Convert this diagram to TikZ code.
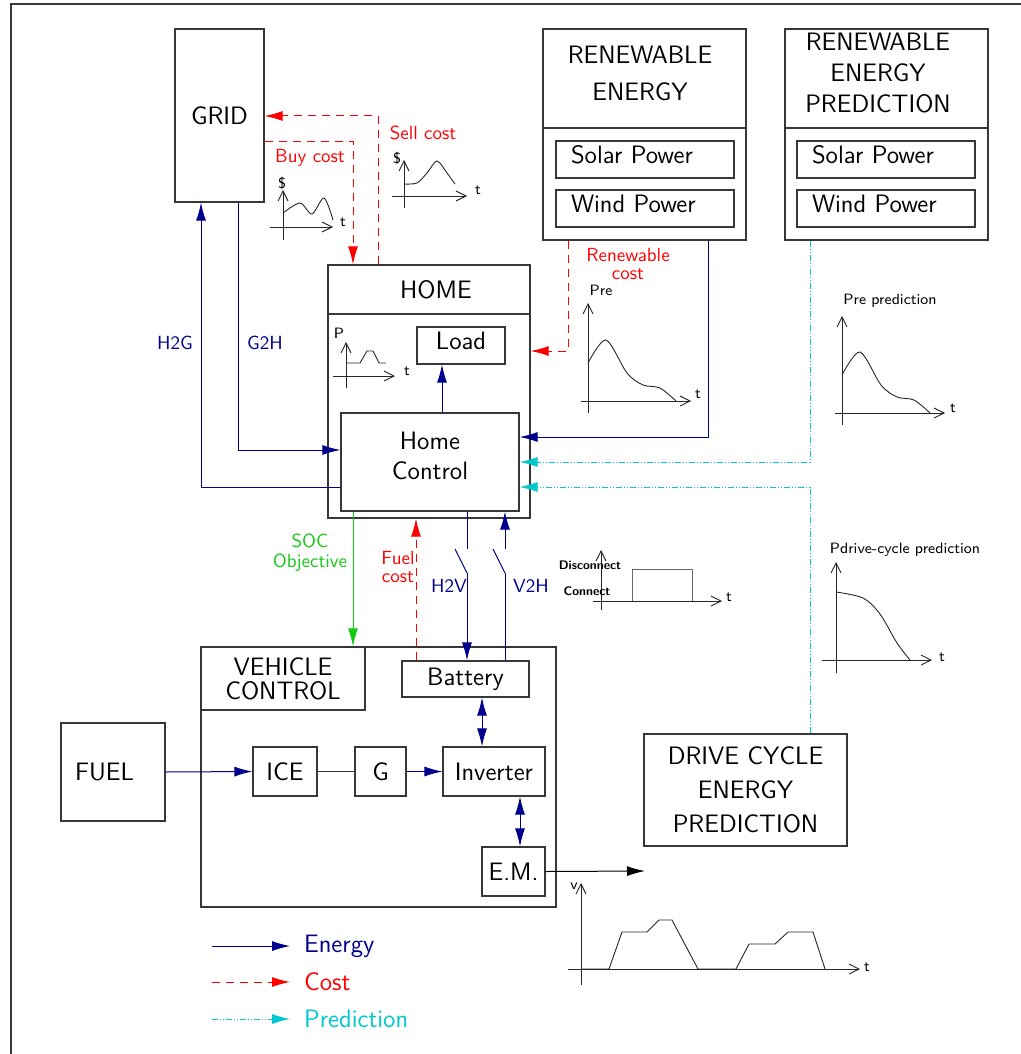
\documentclass[tikz,border=0pt]{standalone}
\usepackage{fontspec}
\usetikzlibrary{arrows.meta}

\definecolor{enblue}{RGB}{0,0,140}
\definecolor{costred}{RGB}{255,0,0}
\definecolor{predcyan}{RGB}{0,200,205}
\definecolor{socgreen}{RGB}{20,200,20}
\definecolor{boxgray}{RGB}{55,55,55}

\tikzset{
  bigtxt/.style={font=\sffamily\fontsize{12.6}{15}\selectfont},
  midtxt/.style={font=\sffamily\fontsize{9.5}{10}\selectfont},
  smltxt/.style={font=\sffamily\fontsize{7.5}{8}\selectfont},
  tinytxt/.style={font=\sffamily\bfseries\fontsize{6.2}{7}\selectfont},
  box/.style={draw=boxgray,line width=0.6pt,inner sep=0pt,bigtxt},
  srcbox/.style={box,minimum width=89pt,minimum height=18.5pt,text width=74pt,inner xsep=7.5pt,align=left,text depth=5pt},
  latexhead/.style={-{Latex[length=9pt,width=5pt]}},
  energy/.style={enblue,line width=0.5pt,latexhead},
  both/.style={enblue,line width=0.5pt,{Latex[length=9pt,width=5pt]}-{Latex[length=9pt,width=5pt]}},
  cost/.style={costred,line width=0.5pt,dash pattern=on 4pt off 3pt,latexhead},
  pred/.style={predcyan,line width=0.5pt,dash pattern=on 3pt off 1pt on 0.5pt off 1pt on 0.5pt off 1pt,latexhead},
  soc/.style={socgreen,line width=0.5pt,latexhead},
  ax/.style={black!85,line width=0.45pt,-{Straight Barb[length=5pt,width=5pt]}},
  curve/.style={black!85,line width=0.45pt},
}

\begin{document}
\begin{tikzpicture}[x=0.5pt,y=-0.5pt]
  \useasboundingbox (0,0) rectangle (1021,1054);
  \draw[boxgray,line width=0.7pt] (11,1054) -- (11,4) -- (1021,4);

  % grid and home
  \node[box,minimum width=44.5pt,minimum height=86.5pt] (grid) at (219.5,115.5) {GRID};
  \node[box,minimum width=101pt,minimum height=126.5pt] (home) at (429,391.5) {};
  \draw[boxgray,line width=0.6pt] (home.west |- 0,314) -- (home.east |- 0,314);
  \node[bigtxt] (homet) at (436,290) {HOME};
  \node[box,minimum width=44pt,minimum height=18.5pt,text depth=5pt] (load) at (461,345.5) {Load};
  \node[box,minimum width=89pt,minimum height=49pt,align=center,text depth=6pt] (hctrl) at (430,462) {Home\\Control};

  % renewables
  \node[box,minimum width=101.5pt,minimum height=105.5pt] (ren) at (644.5,134.5) {};
  \draw[boxgray,line width=0.6pt] (ren.west |- 0,128) -- (ren.east |- 0,128);
  \node[align=center,font=\sffamily\fontsize{12.6}{18.5}\selectfont] (rent) at (640,73) {RENEWABLE\\ENERGY};
  \node[srcbox] (rsol) at (645,159.5) {Solar Power};
  \node[srcbox] (rwnd) at (645,208.5) {Wind Power};
  \node[box,minimum width=101.5pt,minimum height=105.5pt] (rep) at (886.5,134.5) {};
  \draw[boxgray,line width=0.6pt] (rep.west |- 0,128) -- (rep.east |- 0,128);
  \node[align=center,font=\sffamily\fontsize{12.6}{15.3}\selectfont] (rept) at (878,73) {RENEWABLE\\ENERGY\\PREDICTION};
  \node[srcbox] (psol) at (886,159.5) {Solar Power};
  \node[srcbox] (pwnd) at (886,208.5) {Wind Power};

  % vehicle
  \node[box,minimum width=177.5pt,minimum height=130pt] (vctrl) at (378.5,777) {};
  \node[box,minimum width=82pt,minimum height=31.5pt,align=center,font=\sffamily\fontsize{12.6}{12}\selectfont] (vlab) at (283,678.5) {VEHICLE\\CONTROL};
  \node[box,minimum width=63.5pt,minimum height=18pt] (batt) at (465.5,679) {Battery};
  \node[box,minimum width=52pt,minimum height=49pt,text width=38pt,inner xsep=7pt,align=left] (fuel) at (113,772) {FUEL};
  \node[box,minimum width=32pt,minimum height=24.5pt] (ice) at (285,771.5) {ICE};
  \node[box,minimum width=25.5pt,minimum height=24.5pt] (gen) at (380.5,771.5) {G};
  \node[box,minimum width=51pt,minimum height=24.5pt] (inv) at (494,771.5) {Inverter};
  \node[box,minimum width=31.5pt,minimum height=24.5pt] (em) at (513.5,871.5) {E.M.};
  \node[box,minimum width=101.5pt,minimum height=56pt,align=center,font=\sffamily\fontsize{12.6}{17}\selectfont] (dcep) at (745.5,790) {DRIVE CYCLE\\ENERGY\\PREDICTION};

  % grid <-> home
  \draw[cost] (378,0 |- home.north) |- (grid.east |- 0,116);
  \draw[cost] (grid.east |- 0,141) -| (353,0 |- home.north);
  \draw[energy] (hctrl.west |- 0,487) -| (201,0 |- grid.south);
  \draw[energy] (238,0 |- grid.south) |- (hctrl.west |- 0,450);
  \draw[energy] (442,0 |- hctrl.north) -- (442,0 |- load.south);

  % renewables -> home
  \draw[energy] (708,0 |- ren.south) |- (hctrl.east |- 0,437);
  \draw[cost] (568,0 |- ren.south) |- (home.east |- 0,351);
  \draw[pred] (810,0 |- rep.south) |- (hctrl.east |- 0,462);
  \draw[pred] (810,0 |- dcep.north) |- (hctrl.east |- 0,487);

  % home <-> vehicle, with the two switches
  \draw[soc] (353,0 |- hctrl.south) -- (353,0 |- vctrl.north);
  \draw[cost] (416,0 |- batt.north) -- (416,0 |- home.south);
  \coordinate (swa) at (467,549);
  \coordinate (swb) at (455,549);
  \coordinate (swc) at (467,573);
  \draw[enblue,line width=0.5pt] (467,0 |- hctrl.south) -- (swa);
  \draw[enblue,line width=0.5pt] (swb) -- (swc);
  \draw[energy] (swc) -- (467,0 |- batt.north);
  \coordinate (swd) at (505,573);
  \coordinate (swe) at (493,549);
  \coordinate (swf) at (505,549);
  \draw[enblue,line width=0.5pt] (505,0 |- batt.north) -- (swd);
  \draw[enblue,line width=0.5pt] (swe) -- (swd);
  \draw[energy] (swf) -- (505,0 |- hctrl.south);

  % inside the vehicle
  \draw[energy] (fuel.east) -- (ice.west);
  \draw[boxgray,line width=0.5pt] (ice) -- (gen);
  \draw[energy] (gen) -- (inv);
  \draw[both] (482,0 |- batt.south) -- (482,0 |- inv.north);
  \draw[both] (520,0 |- inv.south) -- (520,0 |- em.north);
  \coordinate (vout) at (645,871);
  \draw[black,line width=0.5pt,latexhead] (em.east) -- (vout);

  % labels
  \node[midtxt,costred] (sellt) at (423,133) {Sell cost};
  \node[midtxt,costred] (buyt) at (310,158) {Buy cost};
  \node[midtxt,enblue] (h2gt) at (175,343) {H2G};
  \node[midtxt,enblue] (g2ht) at (265,343) {G2H};
  \node[costred,align=center,font=\sffamily\fontsize{9.5}{9}\selectfont] (rct) at (628,264) {Renewable\\cost};
  \node[socgreen,align=center,font=\sffamily\fontsize{9.5}{10}\selectfont] (soct) at (310,553) {SOC\\Objective};
  \node[costred,align=center,font=\sffamily\fontsize{9.5}{9}\selectfont] (fct) at (398,567) {Fuel\\cost};
  \node[midtxt,enblue] (h2vt) at (449,586) {H2V};
  \node[midtxt,enblue] (v2ht) at (531,586) {V2H};

  % small plots
  \draw[ax] (283,240) -- (283,190);
  \draw[ax] (270,227) -- (333,227);
  \draw[curve] plot[smooth] coordinates {(283,213) (300,203) (312,214) (324,198) (333,220)};
  \node[smltxt] (bdol) at (282,183) {\$};
  \node[smltxt] (bt) at (343,222) {t};

  \draw[ax] (404,208) -- (404,160);
  \draw[ax] (392,196) -- (467,196);
  \draw[curve] plot[smooth] coordinates {(404,184) (417,183) (427,173) (437,161) (447,173) (455,184)};
  \node[smltxt] (sdol) at (397,158) {\$};
  \node[smltxt] (st) at (478,190) {t};

  \draw[ax] (346,388) -- (346,342);
  \draw[ax] (333,376) -- (395,376);
  \draw[curve] (346,363) -- (360,363) -- (367,351) -- (373,351) -- (379,363) -- (386,363);
  \node[smltxt] (lp) at (339,333) {P};
  \node[smltxt] (lt) at (407,371) {t};

  \draw[ax] (588,413) -- (588,303);
  \draw[ax] (581,401) -- (691,401);
  \draw[curve] plot[smooth] coordinates {(588,363) (606,340) (627,373) (643,385) (660,388) (676,401)};
  \node[smltxt] (prel) at (601,290) {Pre};
  \node[smltxt] (pret) at (698,394) {t};

  \draw[ax] (842,425) -- (842,316);
  \draw[ax] (835,413) -- (945,413);
  \draw[curve] plot[smooth] coordinates {(842,375) (860,352) (881,385) (897,397) (914,400) (930,413)};
  \node[smltxt] (ppl) at (890,301) {Pre prediction};
  \node[smltxt] (ppt) at (953,408) {t};

  \draw[ax] (601,610) -- (601,550);
  \draw[ax] (593,601) -- (722,601);
  \draw[curve,black!60] (632,601) -- (632,569) -- (692,569) -- (692,601);
  \node[tinytxt] (swdis) at (590,565) {Disconnect};
  \node[tinytxt] (swcon) at (587,591) {Connect};
  \node[smltxt] (swt) at (729,597) {t};

  \draw[ax] (836,673) -- (836,562);
  \draw[ax] (822,660) -- (932,660);
  \draw[curve] plot[smooth] coordinates {(836,592) (863,598) (880,614) (897,643) (910,660)};
  \node[smltxt] (pdl) at (905,550) {Pdrive-cycle prediction};
  \node[smltxt] (pdt) at (942,657) {t};

  \draw[ax] (581,985) -- (581,883);
  \draw[ax] (568,969) -- (860,969);
  \draw[curve] (581,969) -- (609,969) -- (622,932) -- (647,932) -- (659,920) -- (672,920) -- (698,969)
    -- (736,969) -- (749,944) -- (775,944) -- (788,932) -- (813,932) -- (825,969);
  \node[smltxt] (vv) at (574,886) {v};
  \node[smltxt] (vt) at (867,967) {t};

  % legend
  \coordinate (le1) at (212,946);
  \coordinate (le2) at (212,982);
  \coordinate (le3) at (212,1019);
  \node[bigtxt,enblue,anchor=west] (lgen) at (297,946) {Energy};
  \node[bigtxt,costred,anchor=west] (lgco) at (297,982) {Cost};
  \node[bigtxt,predcyan,anchor=west] (lgpr) at (297,1019) {Prediction};
  \draw[energy,shorten >=3.5pt] (le1) -- (lgen.west);
  \draw[cost,shorten >=3.5pt] (le2) -- (lgco.west);
  \draw[pred,shorten >=3.5pt] (le3) -- (lgpr.west);
\end{tikzpicture}
\end{document}
